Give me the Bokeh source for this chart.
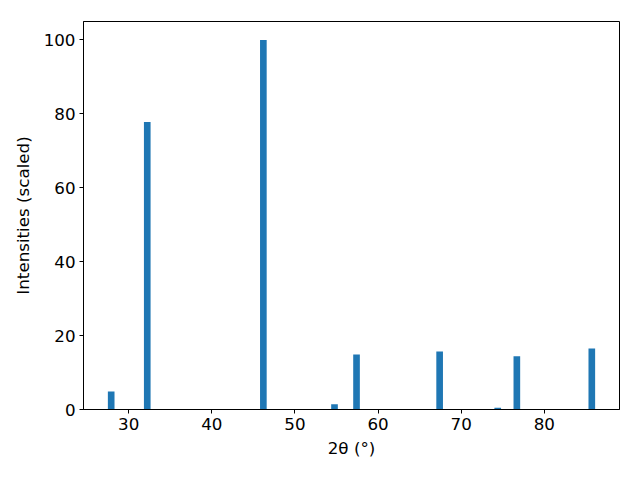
from bokeh.plotting import figure
from bokeh.models import Range1d, FixedTicker, ColumnDataSource
from bokeh.embed import file_html
from bokeh.resources import INLINE

two_theta = [27.89, 32.23, 46.2, 54.76, 57.41, 67.41, 74.4, 76.7, 85.72]
intensity = [4.9, 77.8, 100.0, 1.4, 14.9, 15.7, 0.5, 14.4, 16.5]
x_ticks = [30, 40, 50, 60, 70, 80]
y_ticks = [0, 20, 40, 60, 80, 100]

bar_width = 0.8
span = (max(two_theta) + bar_width / 2) - (min(two_theta) - bar_width / 2)
x_lo = min(two_theta) - bar_width / 2 - 0.05 * span
x_hi = max(two_theta) + bar_width / 2 + 0.05 * span

p = figure(width=640, height=480, output_backend="svg", toolbar_location=None,
           x_range=Range1d(x_lo, x_hi), y_range=Range1d(0, 105),
           min_border_left=83, min_border_right=21, min_border_top=21, min_border_bottom=71)

src = ColumnDataSource(dict(x=two_theta, top=intensity))
p.vbar(x="x", top="top", width=bar_width, bottom=0, source=src,
       fill_color="#1f77b4", line_color=None)

p.xgrid.visible = False
p.ygrid.visible = False
p.outline_line_color = "black"
p.outline_line_width = 1
p.outline_line_alpha = 1

for ax in (p.xaxis[0], p.yaxis[0]):
    ax.axis_line_color = "black"
    ax.major_tick_line_color = "black"
    ax.major_tick_out = 4
    ax.major_tick_in = 0
    ax.minor_tick_line_color = None
    ax.major_label_text_font = "DejaVu Sans"
    ax.major_label_text_font_size = "16.7px"
    ax.major_label_text_color = "black"
    ax.axis_label_text_font = "DejaVu Sans"
    ax.axis_label_text_font_size = "16.7px"
    ax.axis_label_text_font_style = "normal"
    ax.axis_label_text_color = "black"

p.xaxis.ticker = FixedTicker(ticks=x_ticks)
p.yaxis.ticker = FixedTicker(ticks=y_ticks)
p.xaxis.axis_label = "2θ (°)"
p.yaxis.axis_label = "Intensities (scaled)"
p.xaxis.major_label_standoff = 4
p.yaxis.major_label_standoff = 4
p.xaxis.axis_label_standoff = 5
p.yaxis.axis_label_standoff = 8

open("out.html", "w").write(file_html(p, INLINE))
